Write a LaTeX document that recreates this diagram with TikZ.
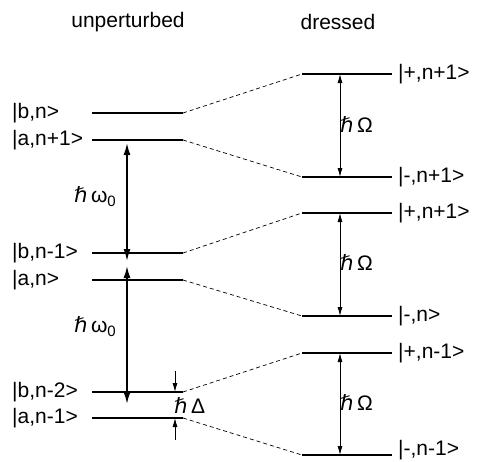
\documentclass[tikz,border=0pt]{standalone}
\usepackage{fontspec}
\setmainfont{Liberation Sans}
\newfontfamily\dvs{DejaVu Sans}
\usetikzlibrary{arrows.meta}
\newcommand{\hb}{{\dvs\itshape ℏ}}
\newcommand{\subz}{\raisebox{-4pt}{\fontsize{15}{15}\selectfont 0}}
\begin{document}
\begin{tikzpicture}[x=1pt,y=-1pt, font=\fontsize{21}{25}\selectfont,
 level/.style={line width=1.1pt},
 link/.style={dash pattern=on 4pt off 3pt, line width=0.7pt},
 lab/.style={inner sep=0pt, anchor=west},
 big/.style={line width=1.7pt, {Latex[length=12pt,width=7pt]}-{Latex[length=12pt,width=7pt]}},
 small/.style={line width=0.8pt, {Latex[length=9pt,width=5pt]}-{Latex[length=9pt,width=5pt]}},
 tick/.style={line width=0.8pt, -{Latex[length=9pt,width=5pt]}}]
\useasboundingbox (0,0) rectangle (482,461);
% titles
\node (tu) at (128,22) {unperturbed};
\node (td) at (338,22) {dressed};
% left levels
\foreach \n/\y in {1/113,2/140,3/253,4/280,5/392,6/418}{
  \coordinate (L\n a) at (92,\y);
  \coordinate (L\n b) at (183,\y);
  \draw[level] (L\n a) -- (L\n b);
}
% right levels
\foreach \n/\y in {1/74,2/177,3/213,4/316,5/353,6/455}{
  \coordinate (R\n a) at (302,\y);
  \coordinate (R\n b) at (392,\y);
  \draw[level] (R\n a) -- (R\n b);
}
% dashed links
\foreach \n in {1,...,6}{
  \draw[link] (L\n b) -- (R\n a);
}
% left labels
\node[lab] (lbn)  at (12,113) {|b,n>};
\node[lab] (lan1) at (12,140) {|a,n+1>};
\node[lab] (lbm1) at (12,253) {|b,n-1>};
\node[lab] (lan)  at (12,280) {|a,n>};
\node[lab] (lbm2) at (12,392) {|b,n-2>};
\node[lab] (lam1) at (12,418) {|a,n-1>};
% right labels
\node[lab] (rp1) at (398,74)  {|+,n+1>};
\node[lab] (rm1) at (398,177) {|-,n+1>};
\node[lab] (rp2) at (398,213) {|+,n+1>};
\node[lab] (rm2) at (398,316) {|-,n>};
\node[lab] (rp3) at (398,353) {|+,n-1>};
\node[lab] (rm3) at (398,450) {|-,n-1>};
% omega_0 arrows
\coordinate (w1t) at (127,143);
\coordinate (w1b) at (127,261);
\coordinate (w2t) at (127,266);
\coordinate (w2b) at (127,404);
\draw[big] (w1t) -- (w1b);
\draw[big] (w2t) -- (w2b);
\node[lab] (lw1) at (74,197) {\hb\,ω\subz};
\node[lab] (lw2) at (74,327) {\hb\,ω\subz};
% Omega arrows
\coordinate (Ot1) at (340,74);  \coordinate (Ob1) at (340,177);
\coordinate (Ot2) at (340,213); \coordinate (Ob2) at (340,316);
\coordinate (Ot3) at (340,353); \coordinate (Ob3) at (340,455);
\draw[small] (Ot1) -- (Ob1);
\draw[small] (Ot2) -- (Ob2);
\draw[small] (Ot3) -- (Ob3);
\node[lab] (lo1) at (340,125) {\hb\,Ω};
\node[lab] (lo2) at (340,263) {\hb\,Ω};
\node[lab] (lo3) at (340,403) {\hb\,Ω};
% Delta arrows
\coordinate (d1s) at (175,371); \coordinate (d1e) at (175,392);
\coordinate (d2s) at (175,440); \coordinate (d2e) at (175,418);
\draw[tick] (d1s) -- (d1e);
\draw[tick] (d2s) -- (d2e);
\node[lab] (ld) at (174,406) {\hb\,Δ};
\end{tikzpicture}
\end{document}
